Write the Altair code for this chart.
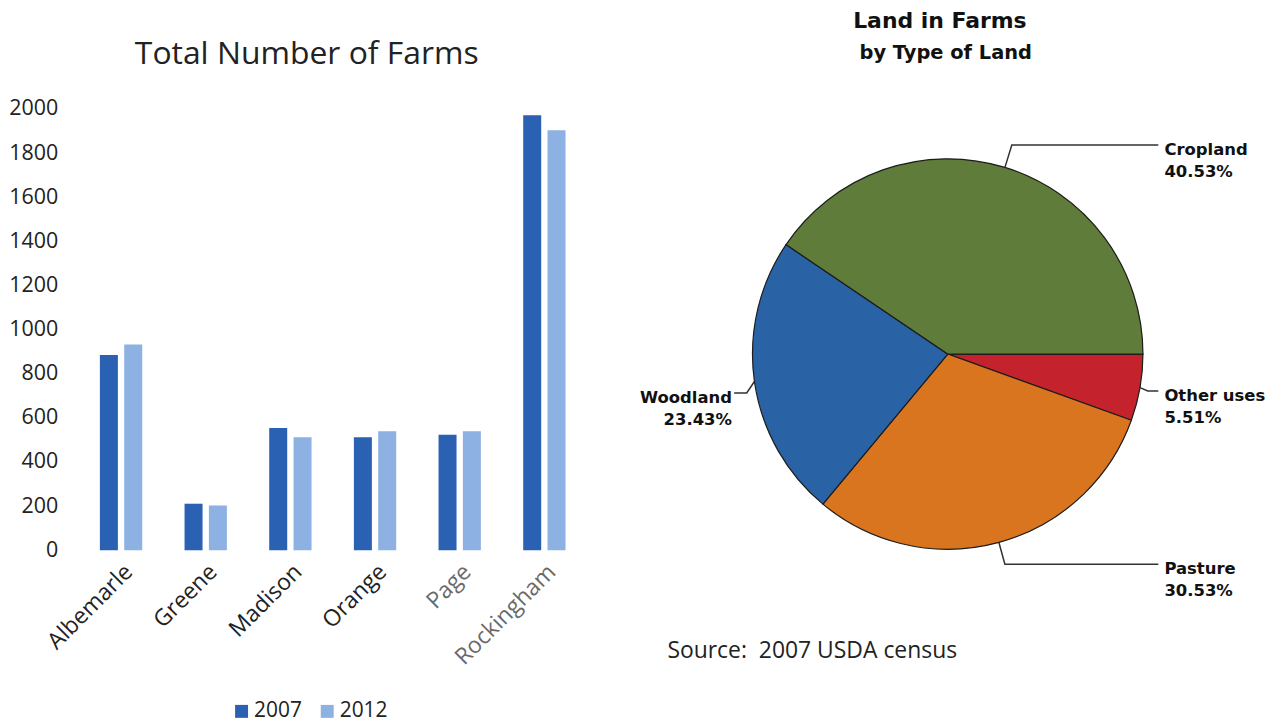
import math
import altair as alt
import pandas as pd

# ---------------- data ----------------
counties = ["Albemarle", "Greene", "Madison", "Orange", "Page", "Rockingham"]
farms_2007 = [885, 211, 554, 512, 524, 1972]
farms_2012 = [933, 203, 512, 539, 539, 1904]
years = ["2007", "2012"]
year_colors = ["#2A61B2", "#8DB1E2"]
y_ticks = [0, 200, 400, 600, 800, 1000, 1200, 1400, 1600, 1800, 2000]

land_types = ["Other uses", "Pasture", "Woodland", "Cropland"]
land_pct = [5.51, 30.53, 23.43, 40.53]
land_colors = ["#C4222C", "#D9741F", "#2A62A6", "#5F7C3A"]

bar_title = "Total Number of Farms"
pie_title = "Land in Farms"
pie_subtitle = "by Type of Land"
source_text = "Source:\u00a0 2007 USDA census"

# ---------------- layout constants ----------------
R_PX = 196                     # pie radius in pixels; 1 data unit = 1 radius
PIE_W, PIE_H = 636, 609
X_DOM = [-1.635, 1.610]
Y_DOM = [-1.852, 1.255]
FONT_BAR = "Open Sans"
FONT_PIE = "DejaVu Sans"

LINE_Y = {"Cropland": 1.071, "Other uses": -0.189, "Pasture": -1.077, "Woodland": -0.199}
END_X = {"Cropland": 1.079, "Other uses": 1.079, "Pasture": 1.079, "Woodland": -1.094}
TEXT_X = {"Cropland": 1.110, "Other uses": 1.110, "Pasture": 1.110, "Woodland": -1.105}
RADIAL = {"Cropland": True, "Other uses": False, "Pasture": True, "Woodland": False}

# ---------------- bar chart ----------------
bar_df = pd.DataFrame({
    "county": counties * 2,
    "year": [years[0]] * len(counties) + [years[1]] * len(counties),
    "farms": farms_2007 + farms_2012,
})

bars = alt.Chart(bar_df).mark_bar().encode(
    x=alt.X("county:N", sort=counties, title=None,
            scale=alt.Scale(paddingInner=0.5, paddingOuter=0.25),
            axis=alt.Axis(labelAngle=-45, labelFontSize=23, labelFont=FONT_BAR,
                          labelColor={"condition": {"test": "indexof(['Page','Rockingham'], datum.value) >= 0",
                                                    "value": "#6a6a6a"},
                                      "value": "#222222"},
                          ticks=False, domain=False, labelPadding=10)),
    xOffset=alt.XOffset("year:N", scale=alt.Scale(paddingInner=0.26)),
    y=alt.Y("farms:Q", title=None, scale=alt.Scale(domain=[0, 2000], nice=False),
            axis=alt.Axis(values=y_ticks, format="d", labelFontSize=21.5, labelFont=FONT_BAR,
                          labelColor="#222222", ticks=False, domain=False, grid=False,
                          labelPadding=21)),
    color=alt.Color("year:N", scale=alt.Scale(domain=years, range=year_colors),
                    legend=alt.Legend(title=None, orient="none", direction="horizontal",
                                      legendX=153, legendY=594, symbolType="square",
                                      symbolSize=169, symbolStrokeWidth=0,
                                      labelFontSize=21, labelFont=FONT_BAR, labelColor="#222222",
                                      labelOffset=2, columnPadding=14)),
).properties(
    width=510, height=443,
    title=alt.TitleParams(bar_title, fontSize=32, font=FONT_BAR, fontWeight="normal",
                          color="#222222", offset=27, anchor="middle", frame="bounds", dx=9),
)

# ---------------- pie chart ----------------
xs = alt.Scale(domain=X_DOM, nice=False, zero=False)
ys = alt.Scale(domain=Y_DOM, nice=False, zero=False)

pie_df = pd.DataFrame({"type": land_types, "pct": land_pct, "ord": list(range(len(land_types)))})

arc = alt.Chart(pie_df).mark_arc(radius=R_PX, stroke="#1c1c1c", strokeWidth=1.2).encode(
    theta=alt.Theta("pct:Q", stack=True,
                    scale=alt.Scale(range=[math.pi / 2, math.pi / 2 + 2 * math.pi])),
    color=alt.Color("type:N", scale=alt.Scale(domain=land_types, range=land_colors), legend=None),
    order=alt.Order("ord:Q"),
    x=alt.XDatum(0, type="quantitative", scale=xs, axis=None),
    y=alt.YDatum(0, type="quantitative", scale=ys, axis=None),
)

# leader lines, derived from the slice mid-angles
total = sum(land_pct)
rows, lab_rows = [], []
start = 90.0
for t, p in zip(land_types, land_pct):
    sweep = p / total * 360.0
    mid = math.radians(start + sweep / 2)
    start += sweep
    sx, sy = math.sin(mid), math.cos(mid)
    ly = LINE_Y[t]
    if RADIAL[t]:
        r = ly / sy
        ex, ey = r * sx, ly
    else:
        ex, ey = sx * 1.04, ly
    pts = [(sx, sy), (ex, ey), (END_X[t], ly)]
    for i, (px, py) in enumerate(pts):
        rows.append({"type": t, "i": i, "x": px, "y": py})
    lab_rows.append({"type": t, "label": f"{t}\n{p:.2f}%", "x": TEXT_X[t], "y": ly,
                     "side": "right" if TEXT_X[t] > 0 else "left"})

line_df = pd.DataFrame(rows)
lab_df = pd.DataFrame(lab_rows)

leaders = alt.Chart(line_df).mark_line(color="#333333", strokeWidth=1.5).encode(
    x=alt.X("x:Q", scale=xs, axis=None),
    y=alt.Y("y:Q", scale=ys, axis=None),
    detail="type:N",
    order="i:Q",
)

lab_right = alt.Chart(lab_df).transform_filter("datum.side == 'right'").mark_text(
    align="left", baseline="middle", dy=5, lineBreak="\n", lineHeight=22,
    font=FONT_PIE, fontWeight="bold", fontSize=16.5, color="#111111",
).encode(x=alt.X("x:Q", scale=xs, axis=None), y=alt.Y("y:Q", scale=ys, axis=None), text="label:N")

lab_left = alt.Chart(lab_df).transform_filter("datum.side == 'left'").mark_text(
    align="right", baseline="middle", dy=5, lineBreak="\n", lineHeight=22,
    font=FONT_PIE, fontWeight="bold", fontSize=16.5, color="#111111",
).encode(x=alt.X("x:Q", scale=xs, axis=None), y=alt.Y("y:Q", scale=ys, axis=None), text="label:N")

text_df = pd.DataFrame({
    "text": [pie_title, pie_subtitle, source_text],
    "x": [-0.04, -0.01, -1.436],
    "y": [1.704, 1.543, -1.520],
    "kind": ["title", "subtitle", "source"],
})

t1 = alt.Chart(text_df).transform_filter("datum.kind == 'title'").mark_text(
    align="center", baseline="middle", font=FONT_PIE, fontWeight="bold", fontSize=22, color="#111111",
).encode(x=alt.X("x:Q", scale=xs, axis=None), y=alt.Y("y:Q", scale=ys, axis=None), text="text:N")

t2 = alt.Chart(text_df).transform_filter("datum.kind == 'subtitle'").mark_text(
    align="center", baseline="middle", font=FONT_PIE, fontWeight="bold", fontSize=19.5, color="#111111",
).encode(x=alt.X("x:Q", scale=xs, axis=None), y=alt.Y("y:Q", scale=ys, axis=None), text="text:N")

t3 = alt.Chart(text_df).transform_filter("datum.kind == 'source'").mark_text(
    align="left", baseline="middle", font=FONT_BAR, fontSize=23, color="#222222",
).encode(x=alt.X("x:Q", scale=xs, axis=None), y=alt.Y("y:Q", scale=ys, axis=None), text="text:N")

pie = alt.layer(arc, leaders, lab_right, lab_left, t1, t2, t3).properties(width=PIE_W, height=PIE_H)

chart = alt.hconcat(bars, pie, spacing=42).resolve_scale(
    color="independent", x="independent", y="independent"
).configure_view(stroke=None).properties(
    background="white", padding={"left": 0, "top": 0, "right": 0, "bottom": 0}
)

chart.save("out.html", embed_options={"renderer": "svg", "actions": False})
